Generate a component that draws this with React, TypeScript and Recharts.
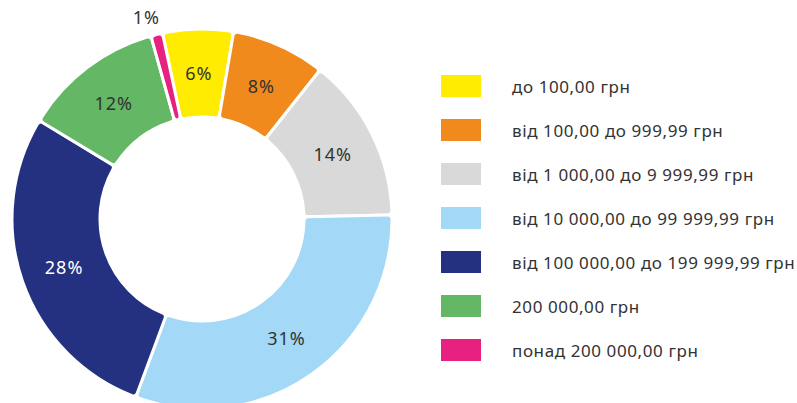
import { PieChart, Pie, Cell } from "recharts";

const categories = [
  "до 100,00 грн",
  "від 100,00 до 999,99 грн",
  "від 1 000,00 до 9 999,99 грн",
  "від 10 000,00 до 99 999,99 грн",
  "від 100 000,00 до 199 999,99 грн",
  "200 000,00 грн",
  "понад 200 000,00 грн",
];
const shares = [6, 8, 14, 31, 28, 12, 1];
const colors = ["#ffec00", "#f18a1c", "#d9d9d9", "#a3d8f6", "#243180", "#63b765", "#e6217f"];

const data = categories.map((name, i) => ({ name, value: shares[i] }));

const FONT = "'Noto Sans', sans-serif";
const RADIAN = Math.PI / 180;

function renderLabel(props: any) {
  const { cx, cy, midAngle, innerRadius, outerRadius, value, index } = props;
  const small = value < 2;
  const r = small ? outerRadius + 18 : (innerRadius + outerRadius) / 2;
  const x = cx + r * Math.cos(-midAngle * RADIAN) + (small ? -6 : 0);
  const y = cy + r * Math.sin(-midAngle * RADIAN);
  return (
    <text
      x={x}
      y={y}
      fill={index === 4 ? "#ffffff" : "#333333"}
      textAnchor="middle"
      dominantBaseline="central"
      fontSize={18}
      letterSpacing={1}
      fontFamily={FONT}
    >
      {`${value}%`}
    </text>
  );
}

function LegendList() {
  return (
    <div style={{ position: "absolute", left: 441, top: 64, fontFamily: FONT }}>
      {data.map((d, i) => (
        <div key={d.name} style={{ display: "flex", alignItems: "center", height: 44 }}>
          <div style={{ width: 40, height: 22, background: colors[i], marginRight: 31, flexShrink: 0 }} />
          <span style={{ fontSize: 17, letterSpacing: 0.6, color: "#333333", whiteSpace: "nowrap" }}>
            {d.name}
          </span>
        </div>
      ))}
    </div>
  );
}

export default function App() {
  return (
    <div style={{ position: "absolute", left: 0, top: 0, width: 797, height: 403, background: "#fff" }}>
      <PieChart width={797} height={403} margin={{ top: 0, right: 0, bottom: 0, left: 0 }}>
        <Pie
          data={data}
          dataKey="value"
          nameKey="name"
          cx={202}
          cy={219}
          innerRadius={102}
          outerRadius={190}
          startAngle={102}
          endAngle={-258}
          stroke="#ffffff"
          strokeWidth={3}
          cornerRadius={4}
          label={renderLabel}
          labelLine={false}
          isAnimationActive={false}
        >
          {data.map((d, i) => (
            <Cell key={d.name} fill={colors[i]} />
          ))}
        </Pie>
      </PieChart>
      <LegendList />
    </div>
  );
}
